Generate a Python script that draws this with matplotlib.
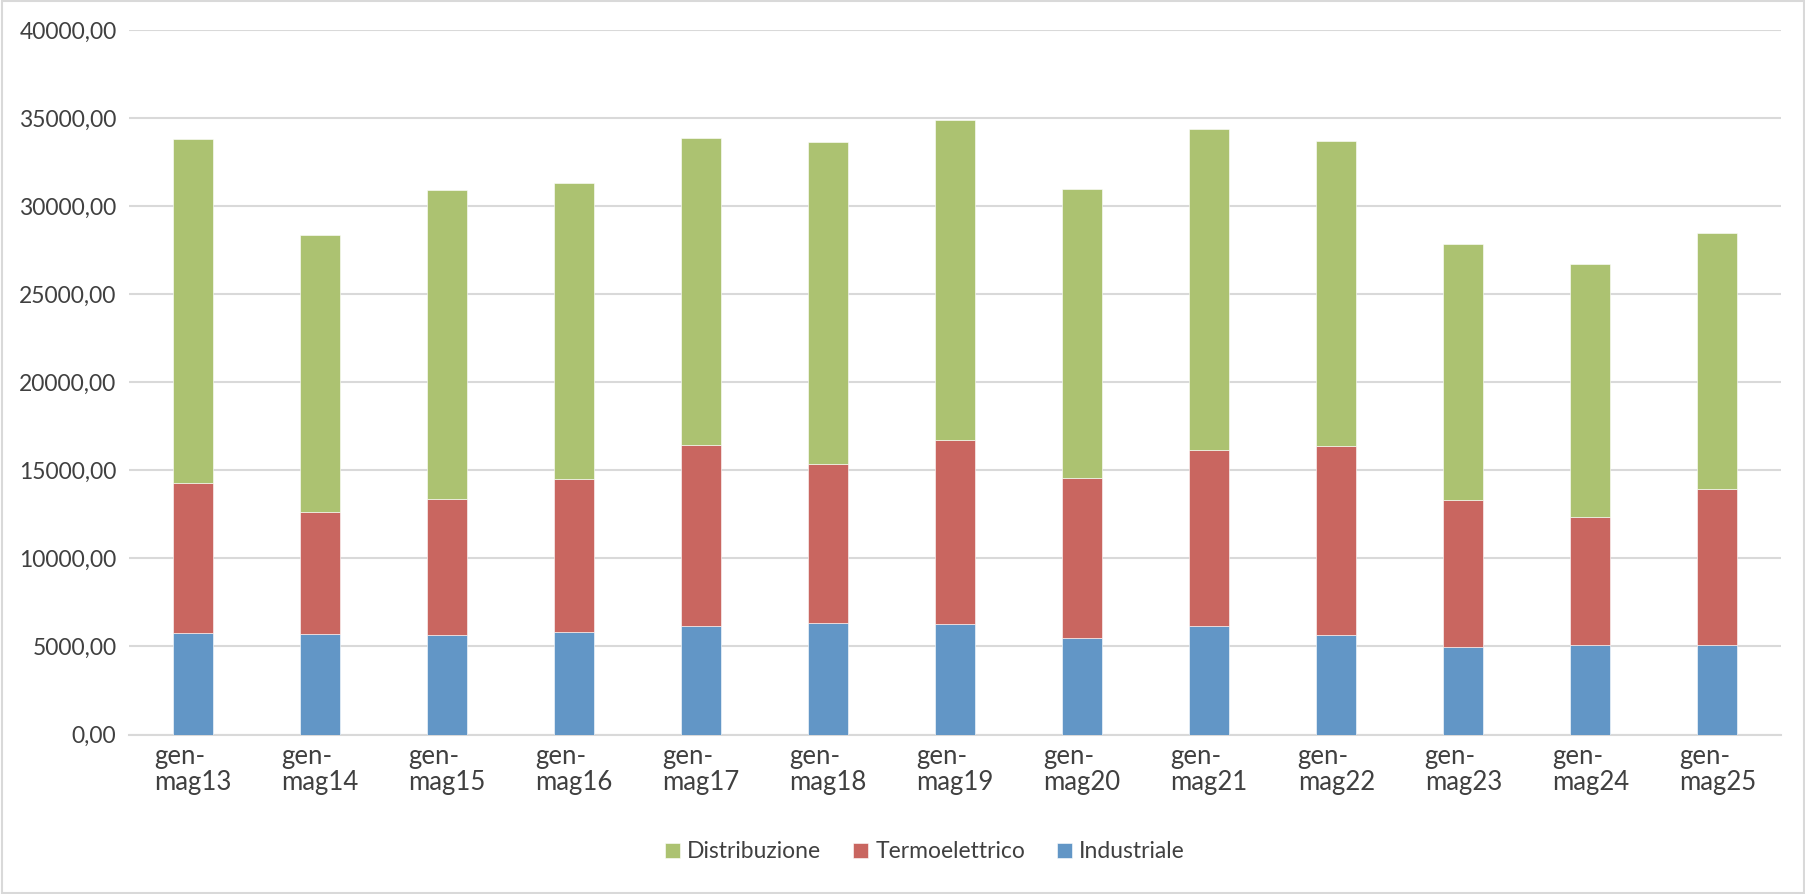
import matplotlib
matplotlib.use("Agg")
import matplotlib.pyplot as plt
import numpy as np
from matplotlib.patches import Rectangle
from matplotlib.ticker import FuncFormatter, MultipleLocator

categories = ["gen-\nmag13", "gen-\nmag14", "gen-\nmag15", "gen-\nmag16", "gen-\nmag17",
              "gen-\nmag18", "gen-\nmag19", "gen-\nmag20", "gen-\nmag21", "gen-\nmag22",
              "gen-\nmag23", "gen-\nmag24", "gen-\nmag25"]
industriale = [5764, 5707, 5650, 5799, 6164, 6335, 6295, 5456, 6164, 5650, 4983, 5080, 5080]
termoelettrico = [8517, 6954, 7736, 8688, 10262, 9007, 10416, 9088, 9977, 10719, 8306, 7296, 8836]
distribuzione = [19538, 15722, 17507, 16805, 17450, 18323, 18152, 16406, 18266, 17319, 14558, 14313, 14581]

plt.rcParams['font.family'] = ['Lato', 'DejaVu Sans']
text_color = "#404040"
grid_color = "#D9D9D9"
c_ind = "#6296C6"
c_term = "#C96660"
c_dist = "#ACC271"

fig = plt.figure(figsize=(18.06, 8.94), dpi=100)
ax = fig.add_axes([129/1806, 1 - 734.5/894, (1781-129)/1806, (734.5-30)/894])

x = np.arange(len(categories))
w = 0.315
ind = np.array(industriale)
term = np.array(termoelettrico)
dist = np.array(distribuzione)
b1 = ax.bar(x, ind, w, color=c_ind, edgecolor='white', linewidth=0.4, zorder=3, label="Industriale")
b2 = ax.bar(x, term, w, bottom=ind, color=c_term, edgecolor='white', linewidth=0.4, zorder=3, label="Termoelettrico")
b3 = ax.bar(x, dist, w, bottom=ind + term, color=c_dist, edgecolor='white', linewidth=0.4, zorder=3, label="Distribuzione")

ax.set_xlim(-0.5, len(categories) - 0.5)
ax.set_ylim(0, 40000)
ax.yaxis.set_major_locator(MultipleLocator(5000))
ax.yaxis.set_major_formatter(FuncFormatter(lambda v, p: f"{v:.2f}".replace(".", ",")))
ax.grid(axis='y', color=grid_color, linewidth=1.5, zorder=0)
ax.set_axisbelow(True)
for s in ["top", "right", "left"]:
    ax.spines[s].set_visible(False)
ax.spines["bottom"].set_color(grid_color)
ax.spines["bottom"].set_linewidth(1.5)
ax.tick_params(axis='both', length=0, colors=text_color)
ax.tick_params(axis='y', pad=9, labelsize=16.5)
ax.tick_params(axis='x', pad=7, labelsize=18.5)
ax.set_xticks(x)
ax.set_xticklabels(categories, multialignment='left', linespacing=1.05)

leg = fig.legend([b3, b2, b1], ["Distribuzione", "Termoelettrico", "Industriale"],
                 loc='center', bbox_to_anchor=(925/1806, 1 - 852/894), ncol=3, frameon=False,
                 fontsize=16.5, handlelength=0.65, handleheight=0.65, handletextpad=0.3,
                 columnspacing=1.4)
for t in leg.get_texts():
    t.set_color(text_color)

fig.patches.append(Rectangle((0.001, 0.001), 0.998, 0.998, transform=fig.transFigure,
                             fill=False, edgecolor=grid_color, linewidth=1.5))

fig.savefig("out.png", dpi=100, facecolor='white')
